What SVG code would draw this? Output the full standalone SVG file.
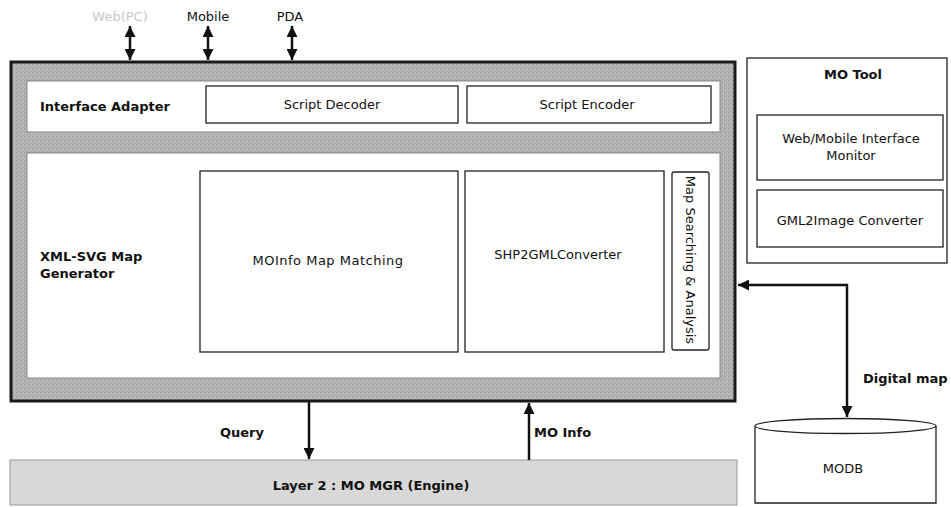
<svg xmlns="http://www.w3.org/2000/svg" width="951" height="507" viewBox="0 0 951 507">
<defs>
<pattern id="grain" width="4" height="4" patternUnits="userSpaceOnUse">
<rect width="4" height="4" fill="#b4b4b4"/>
<rect x="0" y="0" width="1" height="1" fill="#8c8c8c"/>
<rect x="2" y="2" width="1" height="1" fill="#9a9a9a"/>
<rect x="3" y="1" width="1" height="1" fill="#c8c8c8"/>
</pattern>
<pattern id="grainLight" width="4" height="4" patternUnits="userSpaceOnUse">
<rect width="4" height="4" fill="#dadada"/>
<rect x="1" y="1" width="1" height="1" fill="#c4c4c4"/>
<rect x="3" y="3" width="1" height="1" fill="#cfcfcf"/>
</pattern>
<marker id="ah" viewBox="0 0 10 10" refX="10" refY="5" markerWidth="11" markerHeight="11" markerUnits="userSpaceOnUse" orient="auto-start-reverse">
<path d="M0,0 L10,5 L0,10 z" fill="#111"/>
</marker>
</defs>
<style>
text{font-family:"DejaVu Sans","Liberation Sans",sans-serif;fill:#111;font-size:13px;}
.b{font-weight:bold;}
.box{fill:#fff;stroke:#222;stroke-width:1.3;}
.panel{fill:#fff;stroke:#888;stroke-width:1;}
.conn{stroke:#111;stroke-width:2.5;fill:none;}
</style>
<rect width="951" height="507" fill="#fff"/>

<g id="frame">
<rect x="11" y="62" width="724" height="339" fill="url(#grain)" stroke="#1a1a1a" stroke-width="3"/>
</g>

<g id="interface-adapter">
<rect class="panel" x="27" y="81" width="693" height="51"/>
<text class="b" x="40" y="111" font-size="14">Interface Adapter</text>
</g>
<g id="script-decoder">
<rect class="box" x="206" y="86" width="252" height="37"/>
<text x="332" y="109" text-anchor="middle" font-size="12.5">Script Decoder</text>
</g>
<g id="script-encoder">
<rect class="box" x="467" y="86" width="244" height="37"/>
<text x="587" y="109" text-anchor="middle" font-size="12.5">Script Encoder</text>
</g>

<g id="map-generator">
<rect class="panel" x="27" y="153" width="693" height="225"/>
<text class="b" x="40" y="261" font-size="14">XML-SVG Map</text>
<text class="b" x="40" y="278" font-size="14">Generator</text>
</g>
<g id="moinfo-map-matching">
<rect class="box" x="200" y="171" width="258" height="181"/>
<text x="328" y="265" text-anchor="middle" font-size="15" letter-spacing="0.5">MOInfo Map Matching</text>
</g>
<g id="shp2gml">
<rect class="box" x="465" y="171" width="199" height="181"/>
<text x="558" y="259" text-anchor="middle" font-size="14">SHP2GMLConverter</text>
</g>
<g id="map-searching">
<rect class="box" x="672" y="172" width="37" height="178" rx="2"/>
<text x="686" y="260" text-anchor="middle" font-size="13" transform="rotate(90 686 260)">Map Searching &amp; Analysis</text>
</g>

<g id="layer2">
<rect x="10" y="460" width="727" height="45" fill="url(#grainLight)" stroke="#999" stroke-width="1"/>
<text class="b" x="371" y="490" text-anchor="middle" font-size="15.5">Layer 2 : MO MGR (Engine)</text>
</g>

<g id="mo-tool">
<rect x="747" y="58" width="200" height="205" fill="#fff" stroke="#222" stroke-width="1.3"/>
<text class="b" x="853" y="79" text-anchor="middle" font-size="14.5">MO Tool</text>
</g>
<g id="web-mobile-monitor">
<rect class="box" x="757" y="115" width="186" height="65"/>
<text x="851" y="143" text-anchor="middle" font-size="13.5">Web/Mobile Interface</text>
<text x="851" y="160" text-anchor="middle" font-size="13.5">Monitor</text>
</g>
<g id="gml2image">
<rect class="box" x="757" y="190" width="186" height="57"/>
<text x="850" y="225" text-anchor="middle" font-size="13">GML2Image Converter</text>
</g>

<g id="modb">
<path d="M755,426 L755,503 L936,503 L936,426" fill="#fff" stroke="#222" stroke-width="1.3"/>
<ellipse cx="845.5" cy="426" rx="90.5" ry="7.5" fill="#fff" stroke="#222" stroke-width="1.3"/>
<text x="843" y="473" text-anchor="middle">MODB</text>
</g>

<g id="external-labels">
<text x="120" y="21" text-anchor="middle" font-size="12.5" style="fill:#c8c8c8">Web(PC)</text>
<text x="208" y="21" text-anchor="middle" font-size="12.5">Mobile</text>
<text x="290" y="21" text-anchor="middle" font-size="12.5">PDA</text>
</g>

<g id="connectors">
<line class="conn" x1="130" y1="26" x2="130" y2="60" marker-start="url(#ah)" marker-end="url(#ah)"/>
<line class="conn" x1="208" y1="26" x2="208" y2="60" marker-start="url(#ah)" marker-end="url(#ah)"/>
<line class="conn" x1="292" y1="26" x2="292" y2="60" marker-start="url(#ah)" marker-end="url(#ah)"/>
<line class="conn" x1="309" y1="402" x2="309" y2="459" marker-end="url(#ah)"/>
<text class="b" x="220" y="437" font-size="15">Query</text>
<line class="conn" x1="529" y1="460" x2="529" y2="403" marker-end="url(#ah)"/>
<text class="b" x="534" y="437" font-size="15">MO Info</text>
<polyline class="conn" points="738,285 847,285 847,417" marker-start="url(#ah)" marker-end="url(#ah)"/>
<text class="b" x="863" y="383" font-size="14">Digital map</text>
</g>
</svg>
